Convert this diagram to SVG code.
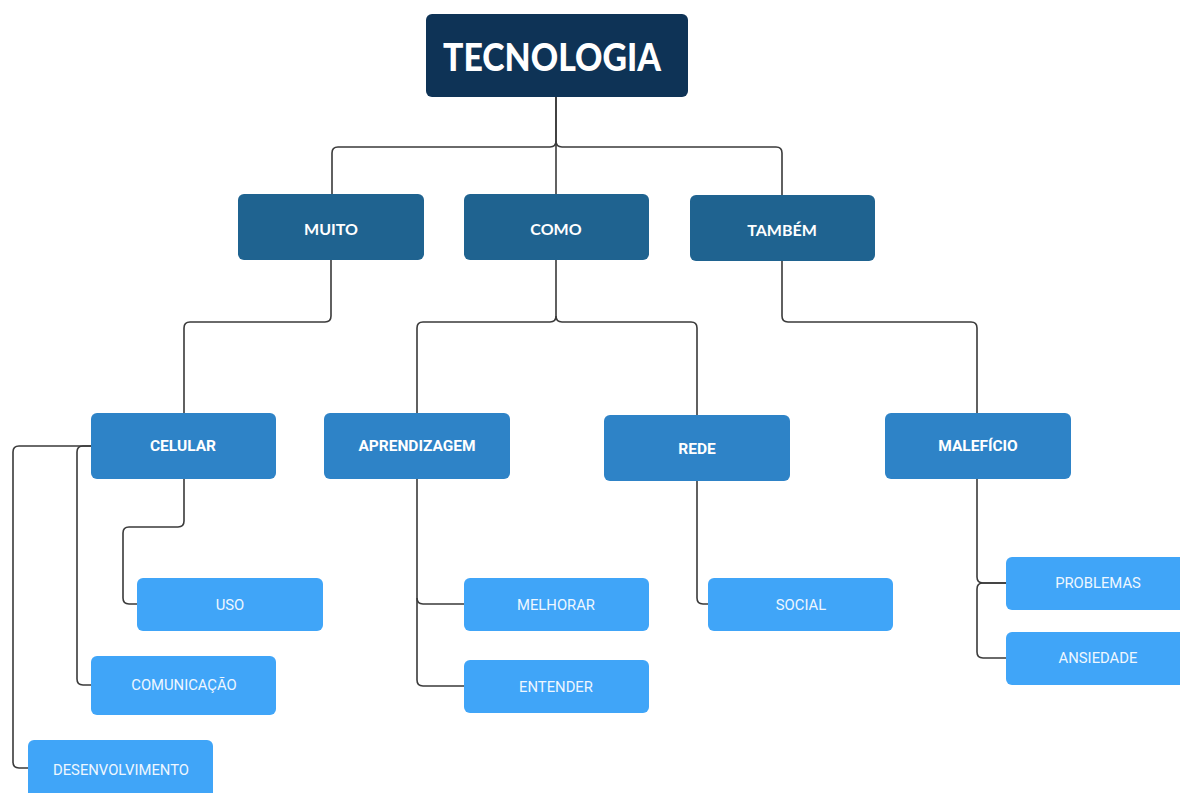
<svg xmlns="http://www.w3.org/2000/svg" width="1180" height="793" viewBox="0 0 1180 793">
<style>
.l0{fill:#0e3356}
.l1{fill:#1f6390}
.l2{fill:#2e83c7}
.l3{fill:#40a5f8}
.t0{font-family:Lato,"Liberation Sans",sans-serif;font-weight:900;font-size:38px;fill:#fff;text-anchor:middle;dominant-baseline:central}
.t1{font-family:Lato,"Liberation Sans",sans-serif;font-weight:700;font-size:16px;fill:#fff;text-anchor:middle;dominant-baseline:central}
.t2{font-family:Roboto,"Liberation Sans",sans-serif;font-weight:700;font-size:15.5px;fill:#fff;text-anchor:middle;dominant-baseline:central}
.t3{font-family:Roboto,"Liberation Sans",sans-serif;font-weight:400;font-size:14.8px;fill:#eef7ff;text-anchor:middle;dominant-baseline:central}
.c{fill:none;stroke:#3a3a3a;stroke-width:1.6}
</style>
<rect width="1180" height="793" fill="#fff"/>
<g id="connectors">
<path class="c" d="M556,97 V141 q0,6 -6,6 H338 q-6,0 -6,6 V194"/>
<path class="c" d="M556,97 V194"/>
<path class="c" d="M556,141 q0,6 6,6 H776 q6,0 6,6 V195"/>
<path class="c" d="M331,260 V316 q0,6 -6,6 H190 q-6,0 -6,6 V413"/>
<path class="c" d="M556,260 V316 q0,6 -6,6 H423 q-6,0 -6,6 V413"/>
<path class="c" d="M556,316 q0,6 6,6 H691 q6,0 6,6 V415"/>
<path class="c" d="M782,261 V316 q0,6 6,6 H971 q6,0 6,6 V413"/>
<path class="c" d="M184,479 V521 q0,6 -6,6 H129 q-6,0 -6,6 V598 q0,6 6,6 H137"/>
<path class="c" d="M91,446 H83 q-6,0 -6,6 V679 q0,6 6,6 H91"/>
<path class="c" d="M91,446 H19 q-6,0 -6,6 V762 q0,6 6,6 H28"/>
<path class="c" d="M417,479 V598 q0,6 6,6 H464"/>
<path class="c" d="M417,598 V680 q0,6 6,6 H464"/>
<path class="c" d="M697,481 V598 q0,6 6,6 H708"/>
<path class="c" d="M977,479 V577 q0,6 6,6 H1006"/>
<path class="c" d="M1006,583 H983 q-6,0 -6,6 V652 q0,6 6,6 H1006"/>
</g>
<g id="tecnologia"><rect class="l0" x="426" y="14" width="262" height="83" rx="6"/><text class="t0" x="552" y="56" textLength="218" lengthAdjust="spacingAndGlyphs">TECNOLOGIA</text></g>
<g id="muito"><rect class="l1" x="238" y="194" width="186" height="66" rx="6"/><text class="t1" x="331" y="228">MUITO</text></g>
<g id="como"><rect class="l1" x="464" y="194" width="185" height="66" rx="6"/><text class="t1" x="556" y="228">COMO</text></g>
<g id="tambem"><rect class="l1" x="690" y="195" width="185" height="66" rx="6"/><text class="t1" x="782" y="229">TAMBÉM</text></g>
<g id="celular"><rect class="l2" x="91" y="413" width="185" height="66" rx="6"/><text class="t2" x="183" y="446">CELULAR</text></g>
<g id="aprendizagem"><rect class="l2" x="324" y="413" width="186" height="66" rx="6"/><text class="t2" x="417" y="446">APRENDIZAGEM</text></g>
<g id="rede"><rect class="l2" x="604" y="415" width="186" height="66" rx="6"/><text class="t2" x="697" y="449">REDE</text></g>
<g id="maleficio"><rect class="l2" x="885" y="413" width="186" height="66" rx="6"/><text class="t2" x="978" y="446">MALEFÍCIO</text></g>
<g id="uso"><rect class="l3" x="137" y="578" width="186" height="53" rx="6"/><text class="t3" x="230" y="605">USO</text></g>
<g id="comunicacao"><rect class="l3" x="91" y="656" width="185" height="59" rx="6"/><text class="t3" x="184" y="685">COMUNICAÇÃO</text></g>
<g id="desenvolvimento"><rect class="l3" x="28" y="740" width="185" height="66" rx="6"/><text class="t3" x="121" y="770">DESENVOLVIMENTO</text></g>
<g id="melhorar"><rect class="l3" x="464" y="578" width="185" height="53" rx="6"/><text class="t3" x="556" y="605">MELHORAR</text></g>
<g id="entender"><rect class="l3" x="464" y="660" width="185" height="53" rx="6"/><text class="t3" x="556" y="687">ENTENDER</text></g>
<g id="social"><rect class="l3" x="708" y="578" width="185" height="53" rx="6"/><text class="t3" x="801" y="605">SOCIAL</text></g>
<g id="problemas"><rect class="l3" x="1006" y="557" width="186" height="53" rx="6"/><text class="t3" x="1098" y="583">PROBLEMAS</text></g>
<g id="ansiedade"><rect class="l3" x="1006" y="632" width="186" height="53" rx="6"/><text class="t3" x="1098" y="658">ANSIEDADE</text></g>
</svg>
